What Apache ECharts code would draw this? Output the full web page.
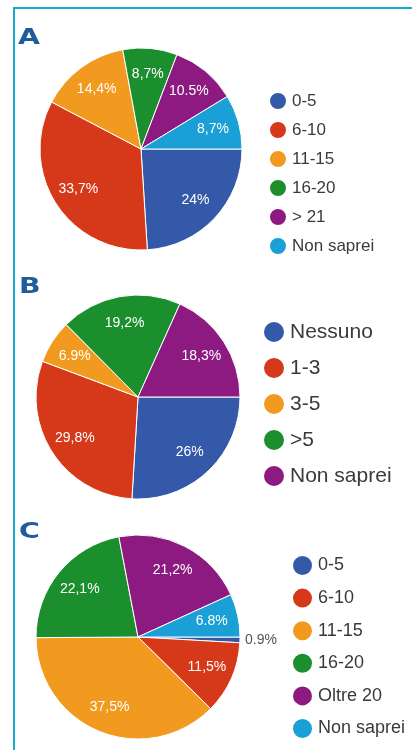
<!DOCTYPE html>
<html>
<head>
<meta charset="utf-8">
<script src="https://cdn.jsdelivr.net/npm/echarts@6/dist/echarts.min.js"></script>
<style>
  html, body { margin: 0; padding: 0; background: #fff; }
  #frame {
    position: absolute; left: 13px; top: 7px; width: 420px; height: 760px;
    border-top: 2px solid #17a8d3; border-left: 2px solid #17a8d3;
  }
  #main { position: absolute; left: 0; top: 0; width: 412px; height: 750px; }
</style>
</head>
<body>
<div id="frame"></div>
<div id="main"></div>
<script>
// chart A
var namesA = ['0-5', '6-10', '11-15', '16-20', '> 21', 'Non saprei'];
var valuesA = [24, 33.7, 14.4, 8.7, 10.5, 8.7];
var labelsA = ['24%', '33,7%', '14,4%', '8,7%', '10.5%', '8,7%'];
// chart B
var namesB = ['Nessuno', '1-3', '3-5', '>5', 'Non saprei'];
var valuesB = [26, 29.8, 6.9, 19.2, 18.3];
var labelsB = ['26%', '29,8%', '6.9%', '19,2%', '18,3%'];
// chart C
var namesC = ['0-5', '6-10', '11-15', '16-20', 'Oltre 20', 'Non saprei'];
var valuesC = [0.9, 11.5, 37.5, 22.1, 21.2, 6.8];
var labelsC = ['0.9%', '11,5%', '37,5%', '22,1%', '21,2%', '6.8%'];

var blue = '#3359a8', red = '#d6391a', orange = '#f29a1f',
    green = '#1b8e2e', purple = '#8d1a80', cyan = '#1a9fd6';
var colorsA = [blue, red, orange, green, purple, cyan];
var colorsB = [blue, red, orange, green, purple];
var colorsC = [blue, red, orange, green, purple, cyan];

var myChart = echarts.init(document.getElementById('main'));

function pieSeries(names, values, labels, colors, center, r) {
    var data = names.map(function (n, i) {
        return { name: n, value: values[i], itemStyle: { color: colors[i] } };
    });
    // labels sit on a transparent ring so they land at ~0.7 of the radius
    var labelData = names.map(function (n, i) {
        return { name: n, value: values[i] };
    });
    return [
        {
            type: 'pie',
            center: center,
            radius: [0, r],
            startAngle: 0,
            clockwise: true,
            silent: true,
            label: { show: false },
            labelLine: { show: false },
            itemStyle: { borderColor: '#fff', borderWidth: 1 },
            data: data
        },
        {
            type: 'pie',
            center: center,
            radius: [r * 0.42, r],
            startAngle: 0,
            clockwise: true,
            silent: true,
            avoidLabelOverlap: false,
            itemStyle: { color: 'rgba(0,0,0,0)', borderWidth: 0 },
            label: {
                show: true,
                position: 'inside',
                color: '#fff',
                fontSize: 14,
                fontFamily: 'Liberation Sans',
                formatter: function (p) { return labels[p.dataIndex]; }
            },
            labelLine: { show: false },
            data: labelData
        }
    ];
}

function legendFor(names, colors, left, top, size, gap, fontSize) {
    return {
        orient: 'vertical',
        left: left,
        top: top,
        padding: 0,
        icon: 'circle',
        itemWidth: size,
        itemHeight: size,
        itemGap: gap,
        selectedMode: false,
        textStyle: {
            color: '#3a3a3a',
            fontSize: fontSize,
            lineHeight: size,
            fontFamily: 'Liberation Sans'
        },
        data: names.map(function (n, i) {
            return { name: n, itemStyle: { color: colors[i] } };
        })
    };
}

var seriesC = pieSeries(namesC, valuesC, labelsC, colorsC, [138, 637], 102);
// tiny first slice of C gets its label outside, in grey
seriesC[1].data[0].label = { position: 'outside', color: '#555', fontSize: 14, padding: [10, 0, 0, 0] };
seriesC[1].data[0].labelLine = { show: false, length: 0, length2: 0 };

var letterStyle = { font: 'bold 21px "DejaVu Sans"', fill: '#1d5d9b' };

var option = {
    animation: false,
    graphic: [
        { type: 'text', left: 18, top: 28, scaleX: 1.35, style: Object.assign({ text: 'A' }, letterStyle) },
        { type: 'text', left: 19, top: 277, scaleX: 1.35, style: Object.assign({ text: 'B' }, letterStyle) },
        { type: 'text', left: 19, top: 522, scaleX: 1.35, style: Object.assign({ text: 'C' }, letterStyle) }
    ],
    legend: [
        legendFor(namesA, colorsA, 268, 91, 18, 9, 17),
        legendFor(namesB, colorsB, 262, 320, 22, 12, 21),
        legendFor(namesC, colorsC, 291, 554, 21, 9.6, 18)
    ],
    series: []
        .concat(pieSeries(namesA, valuesA, labelsA, colorsA, [141, 149], 101))
        .concat(pieSeries(namesB, valuesB, labelsB, colorsB, [138, 397], 102))
        .concat(seriesC)
};

myChart.setOption(option);
window.addEventListener('resize', function () {
    myChart.resize();
});
</script>
</body>
</html>
